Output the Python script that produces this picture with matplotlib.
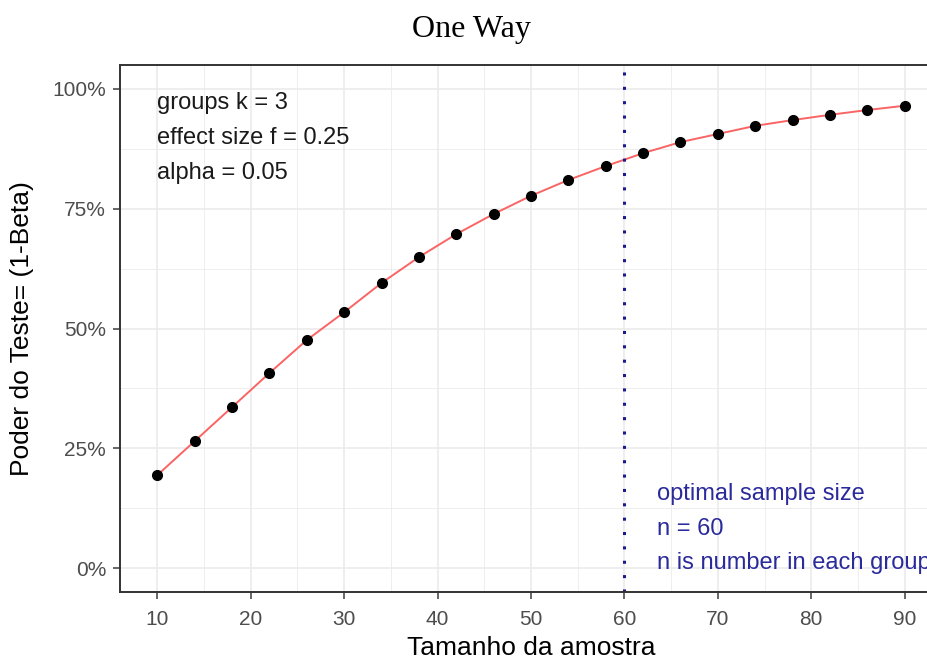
import matplotlib
matplotlib.use("Agg")
import matplotlib.pyplot as plt
from matplotlib.ticker import FixedLocator, FuncFormatter

# sample size per group and power
n = [10, 14, 18, 22, 26, 30, 34, 38, 42, 46, 50, 54, 58, 62, 66, 70, 74, 78, 82, 86, 90]
power = [0.194, 0.265, 0.336, 0.407, 0.476, 0.534, 0.595, 0.649, 0.697, 0.739, 0.777,
         0.810, 0.839, 0.866, 0.889, 0.906, 0.923, 0.935, 0.946, 0.956, 0.965]
optimal_n = 60
x_ticks = [10, 20, 30, 40, 50, 60, 70, 80, 90]
y_ticks = [0, 0.25, 0.5, 0.75, 1.0]
info_text = "groups k = 3\neffect size f = 0.25\nalpha = 0.05"
opt_text = "optimal sample size\nn = 60\nn is number in each group"

plt.rcParams['font.family'] = ['Liberation Sans', 'DejaVu Sans']

fig = plt.figure(figsize=(9.28, 6.62), dpi=100)
ax = fig.add_axes([120/928, 1 - 592/662, 822/928, 527/662])

grid_c = "#EBEBEB"
for v in [15, 25, 35, 45, 55, 65, 75, 85]:
    ax.axvline(v, color=grid_c, lw=0.6, zorder=0)
for v in [0.125, 0.375, 0.625, 0.875]:
    ax.axhline(v, color=grid_c, lw=0.6, zorder=0)
for v in x_ticks:
    ax.axvline(v, color=grid_c, lw=1.2, zorder=0)
for v in y_ticks:
    ax.axhline(v, color=grid_c, lw=1.2, zorder=0)

ax.plot(n, power, color="#FA6464", lw=1.4, zorder=2)
ax.plot(n, power, "o", color="black", ms=7, zorder=3)
ax.axvline(optimal_n, color="#1A1A8C", lw=2.2, ls=(0, (1, 3.7)), zorder=2)

ax.text(10, 0.994, info_text, fontsize=17, color="#1a1a1a", va="top", ha="left",
        linespacing=1.78)
# the reference crops the last word at the right edge as well
ax.text(63.5, 0.178, opt_text, fontsize=17, color="#2A2A9C", va="top", ha="left",
        linespacing=1.75)

ax.set_xlim(6, 94)
ax.set_ylim(-0.05, 1.05)
ax.xaxis.set_major_locator(FixedLocator(x_ticks))
ax.yaxis.set_major_locator(FixedLocator(y_ticks))
ax.yaxis.set_major_formatter(FuncFormatter(lambda v, p: "%d%%" % round(v * 100)))
ax.tick_params(colors="#4D4D4D", labelsize=15, length=5, width=1.2, pad=5)
ax.tick_params(axis="x", pad=8)
for s in ax.spines.values():
    s.set_color("#333333")
    s.set_linewidth(1.4)

ax.set_xlabel("Tamanho da amostra", fontsize=19, color="black", labelpad=5)
ax.set_ylabel("Poder do Teste= (1-Beta)", fontsize=19, color="black", labelpad=13)

fig.text(471/928, 1 - 30/662, "One Way", fontsize=23, family="Liberation Serif",
         ha="center", va="center")

fig.savefig("out.png", dpi=100)
